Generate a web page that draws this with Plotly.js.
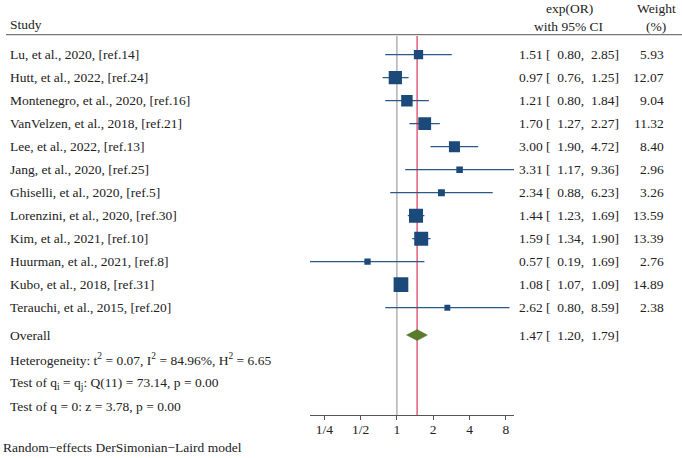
<!DOCTYPE html>
<html>
<head>
<meta charset="utf-8">
<script src="https://cdn.plot.ly/plotly-3.0.1.min.js"></script>
<style>html,body{margin:0;padding:0;background:#fff;}#chart{width:682px;height:458px;}</style>
</head>
<body>
<div id="chart"></div>
<script>
// ---- data ----
const studies = ["Lu, et al., 2020, [ref.14]","Hutt, et al., 2022, [ref.24]","Montenegro, et al., 2020, [ref.16]","VanVelzen, et al., 2018, [ref.21]","Lee, et al., 2022, [ref.13]","Jang, et al., 2020, [ref.25]","Ghiselli, et al., 2020, [ref.5]","Lorenzini, et al., 2020, [ref.30]","Kim, et al., 2021, [ref.10]","Huurman, et al., 2021, [ref.8]","Kubo, et al., 2018, [ref.31]","Terauchi, et al., 2015, [ref.20]"];
const orVals = [1.51,0.97,1.21,1.70,3.00,3.31,2.34,1.44,1.59,0.57,1.08,2.62];
const ciLow  = [0.80,0.76,0.80,1.27,1.90,1.17,0.88,1.23,1.34,0.19,1.07,0.80];
const ciHigh = [2.85,1.25,1.84,2.27,4.72,9.36,6.23,1.69,1.90,1.69,1.09,8.59];
const weights = [5.93,12.07,9.04,11.32,8.40,2.96,3.26,13.59,13.39,2.76,14.89,2.38];
const overallLabel = "Overall";
const overallOR = 1.47, overallLow = 1.20, overallHigh = 1.79;
const tickVals = [0.25,0.5,1,2,4,8];
const tickLabels = ["1/4","1/2","1","2","4","8"];
const hetText = "Heterogeneity: t<sup>2</sup> = 0.07, I<sup>2</sup> = 84.96%, H<sup>2</sup> = 6.65";
const testQ = "Test of q<sub>i</sub> = q<sub>j</sub>: Q(11) = 73.14, p = 0.00";
const testZ = "Test of q = 0: z = 3.78, p = 0.00";
const footer = "Random\u2212effects DerSimonian\u2212Laird model";

// ---- layout helpers ----
const W = 682, H = 458;
const FONT = "'Liberation Serif', 'Times New Roman', Times, serif";
const FS = 13.5;
const TXT = "#222";
const rowY = studies.map((s,i)=>i);
const overallY = 12.19;
const px = x => x / W;
const py = y => 1 - y / H;
const fmt = v => v.toFixed(2);

const traces = [];
traces.push({
  type: "scatter", mode: "markers",
  x: orVals, y: rowY,
  marker: {symbol: "square", color: "#1b4a7a", opacity: 1, size: weights.map(w => 3.81*Math.sqrt(w)), line: {width: 0}},
  error_x: {type: "data", symmetric: false,
    array: orVals.map((v,i)=>ciHigh[i]-v),
    arrayminus: orVals.map((v,i)=>v-ciLow[i]),
    color: "#2c5888", thickness: 1.3, width: 0},
  hoverinfo: "skip", showlegend: false
});
const dh = 0.24;
traces.push({
  type: "scatter", mode: "lines",
  x: [overallLow, overallOR, overallHigh, overallOR, overallLow],
  y: [overallY, overallY-dh, overallY, overallY+dh, overallY],
  fill: "toself", fillcolor: "#5a7a2c", line: {color: "#5a7a2c", width: 0.5},
  hoverinfo: "skip", showlegend: false
});

const ann = [];
studies.forEach((s,i)=>{
  ann.push({xref:"paper", yref:"y", x:px(8), y:rowY[i], xanchor:"left", yanchor:"middle", text:s, showarrow:false});
  ann.push({xref:"paper", yref:"y", x:px(621), y:rowY[i], xanchor:"right", yanchor:"middle",
    text: fmt(orVals[i]) + " [  " + fmt(ciLow[i]) + ",  " + fmt(ciHigh[i]) + "]", showarrow:false});
  ann.push({xref:"paper", yref:"y", x:px(666), y:rowY[i], xanchor:"right", yanchor:"middle", text: fmt(weights[i]), showarrow:false});
});
ann.push({xref:"paper", yref:"y", x:px(8), y:overallY, xanchor:"left", yanchor:"middle", text:overallLabel, showarrow:false});
ann.push({xref:"paper", yref:"y", x:px(621), y:overallY, xanchor:"right", yanchor:"middle",
  text: fmt(overallOR) + " [  " + fmt(overallLow) + ",  " + fmt(overallHigh) + "]", showarrow:false});
ann.push({xref:"paper", yref:"paper", x:px(8), y:py(359.3), xanchor:"left", yanchor:"middle", text:hetText, showarrow:false});
ann.push({xref:"paper", yref:"paper", x:px(8), y:py(383.3), xanchor:"left", yanchor:"middle", text:testQ, showarrow:false});
ann.push({xref:"paper", yref:"paper", x:px(8), y:py(406), xanchor:"left", yanchor:"middle", text:testZ, showarrow:false});
ann.push({xref:"paper", yref:"paper", x:px(8), y:py(25), xanchor:"left", yanchor:"middle", text:"Study", showarrow:false});
ann.push({xref:"paper", yref:"paper", x:px(569), y:py(8.3), xanchor:"center", yanchor:"middle", text:"exp(OR)", showarrow:false});
ann.push({xref:"paper", yref:"paper", x:px(569), y:py(26.7), xanchor:"center", yanchor:"middle", text:"with 95% CI", showarrow:false});
ann.push({xref:"paper", yref:"paper", x:px(656), y:py(8.3), xanchor:"center", yanchor:"middle", text:"Weight", showarrow:false});
ann.push({xref:"paper", yref:"paper", x:px(656), y:py(26.7), xanchor:"center", yanchor:"middle", text:"(%)", showarrow:false});
ann.push({xref:"paper", yref:"paper", x:px(1), y:py(447.3), xanchor:"left", yanchor:"middle", text:footer, showarrow:false});

const yTop = 36, yAxis = 415.3;
const layout = {
  width: W, height: H,
  margin: {l:0, r:0, t:0, b:0},
  paper_bgcolor: "#fff", plot_bgcolor: "rgba(0,0,0,0)",
  font: {family: FONT, size: FS, color: TXT},
  showlegend: false,
  xaxis: {
    type: "log",
    domain: [px(310), px(514)],
    range: [Math.log10(Math.min(...ciLow)), Math.log10(Math.max(...ciHigh))],
    tickvals: tickVals, ticktext: tickLabels,
    ticks: "outside", ticklen: 4, tickcolor: "#555", tickwidth: 1,
    ticklabelstandoff: -3,
    showline: true, linecolor: "#555", linewidth: 1,
    showgrid: false, zeroline: false,
    tickfont: {family: FONT, size: FS, color: TXT},
    anchor: "y", fixedrange: true
  },
  yaxis: {
    domain: [py(yAxis), py(yTop)],
    range: [(yAxis-54.7)/23, (yTop-54.7)/23],
    visible: false, showgrid: false, zeroline: false, fixedrange: true
  },
  shapes: [
    {type:"line", xref:"paper", yref:"paper", x0:px(6), x1:1, y0:py(34.7), y1:py(34.7), line:{color:"#555", width:1}},
    {type:"line", xref:"x", yref:"y domain", x0:1, x1:1, y0:0, y1:1, line:{color:"#8c8c8c", width:1}, layer:"below"},
    {type:"line", xref:"x", yref:"y domain", x0:overallOR, x1:overallOR, y0:0, y1:1, line:{color:"#d9365a", width:1.2}, layer:"below"}
  ],
  annotations: ann
};

Plotly.newPlot("chart", traces, layout, {displayModeBar:false, staticPlot:true});
</script>
</body>
</html>
